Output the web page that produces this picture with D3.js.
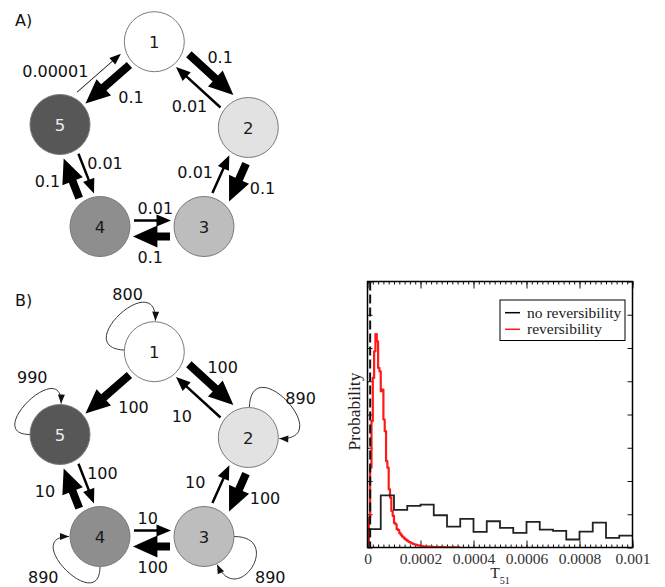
<!DOCTYPE html>
<html>
<head>
<meta charset="utf-8">
<script src="https://cdn.jsdelivr.net/npm/d3@7"></script>
<style>
  body { margin: 0; background: #fff; }
  svg { display: block; }
</style>
</head>
<body>
<svg id="fig" width="665" height="587"></svg>
<script>
// ---------------- data ----------------
// Five-state kinetic scheme: directed transitions and their rates
const states   = ["1", "2", "3", "4", "5"];
const edgeFrom = ["1", "2", "1", "5", "2", "3", "3", "4", "4", "5"];
const edgeTo   = ["2", "1", "5", "1", "3", "2", "4", "3", "5", "4"];
const ratesA   = [0.1, 0.01, 0.1, 0.00001, 0.1, 0.01, 0.1, 0.01, 0.1, 0.01];
const ratesB   = [100, 10, 100, 0, 100, 10, 100, 10, 100, 10];
// self-transition weights of scheme B (same order as states)
const selfRatesB = [800, 890, 890, 890, 990];

// Distribution of the first-passage time T51
const binNoRev  = 0.00005;
const probNoRev = [0.55, 1.57, 1.13, 1.25, 1.29, 0.97, 0.63, 0.86, 0.47, 0.79,
                   0.59, 0.44, 0.77, 0.54, 0.50, 0.24, 0.48, 0.75, 0.29, 0.36];
const binRev  = 0.000005;
const probRev = [0.1, 0.9, 2.4, 3.8, 5.1, 5.9, 6.42, 6.2, 5.4, 5.3,
                 4.7, 4.75, 3.85, 3.5, 2.6, 2.4, 1.75, 1.5, 1.1, 0.95,
                 0.74, 0.7, 0.55, 0.52, 0.43, 0.38, 0.33, 0.3, 0.25, 0.23,
                 0.19, 0.17, 0.15, 0.13, 0.11, 0.095, 0.085, 0.075, 0.065, 0.055,
                 0.045, 0.04, 0.035, 0.03, 0.03, 0.025, 0.025, 0.02, 0.02, 0.02,
                 0.015, 0.015, 0.015, 0.01, 0.01, 0.01, 0.01, 0.01, 0.008, 0.008,
                 0.006, 0.006, 0.005, 0.005, 0.004, 0.004, 0.003, 0.003, 0.002, 0.002];
const timeTicks = [0, 0.0002, 0.0004, 0.0006, 0.0008, 0.001];
const probTicks = [0, 1, 2, 3, 4, 5, 6, 7, 8];
const deterministicT51 = 0.00001;
const seriesNames = ["no reversibility", "reversibility"];

// ---------------- scheme layout ----------------
const nodeLayout = {
  "1": [154.3, 41.7], "2": [248.3, 127.5], "3": [204, 226.5],
  "4": [100, 226.5],  "5": [60, 124.5]
};
const nodeFill = { "1": "#ffffff", "2": "#e2e2e2", "3": "#bdbdbd", "4": "#8e8e8e", "5": "#575757" };
const nodeText = { "1": "#1a1a1a", "2": "#1a1a1a", "3": "#1a1a1a", "4": "#1a1a1a", "5": "#ececec" };
const R = 30;
// perpendicular lane of each arrow (positive = away from the ring centre)
const laneOffset = [14, -4, -1, 13, 12.7, -6, 10, -6, 9, -6.5];
// label placement relative to the arrow midpoint
const labelPos = [
  { dx: -3.7, dy: -11.3, anchor: "start" },
  { dx: -26.6, dy: 24.4, anchor: "start" },
  { dx: 10.8, dy: 19.1, anchor: "start" },
  { dx: -76.7, dy: 3.9, anchor: "start" },
  { dx: 12.2, dy: 11, anchor: "start" },
  { dx: -25.7, dy: 3.7, anchor: "middle" },
  { dx: -14, dy: 26, anchor: "start" },
  { dx: -15, dy: -7, anchor: "start" },
  { dx: -36.6, dy: 8.7, anchor: "start" },
  { dx: 0.9, dy: -4.6, anchor: "start" }
];
const labelSlotA = [0, 1, 2, 3, 4, 5, 6, 7, 8, 9];
const labelSlotB = [0, 1, 2, 3, 4, 5, 6, 7, 9, 8];
// self-loop geometry: start angle, end angle, reach; and label offsets
const loopGeom = {
  "1": { a: 183, b: -88, reach: 85, lx: -42, ly: -51.7 },
  "2": { a: -88, b: 2,  reach: 90, lx: 37,  ly: -33.8 },
  "3": { a: 0,   b: 65, reach: 80, lx: 51,  ly: 46 },
  "4": { a: 90,  b: 180, reach: 80, lx: -72, ly: 46 },
  "5": { a: 180, b: -88, reach: 78, lx: -43, ly: -51.5 }
};

const svg = d3.select("#fig");
const sans = "'DejaVu Sans', Verdana, sans-serif";
const serif = "'Liberation Serif', 'Times New Roman', serif";

const centroid = [d3.mean(states, s => nodeLayout[s][0]), d3.mean(states, s => nodeLayout[s][1])];

function arrowPath(t, p, w, hw, hl) {
  const dx = p[0] - t[0], dy = p[1] - t[1], L = Math.hypot(dx, dy);
  const ux = dx / L, uy = dy / L, nx = -uy, ny = ux;
  const bx = p[0] - ux * hl, by = p[1] - uy * hl;
  const path = d3.path();
  path.moveTo(t[0] + nx * w / 2, t[1] + ny * w / 2);
  path.lineTo(bx + nx * w / 2, by + ny * w / 2);
  path.lineTo(bx + nx * hw / 2, by + ny * hw / 2);
  path.lineTo(p[0], p[1]);
  path.lineTo(bx - nx * hw / 2, by - ny * hw / 2);
  path.lineTo(bx - nx * w / 2, by - ny * w / 2);
  path.lineTo(t[0] - nx * w / 2, t[1] - ny * w / 2);
  path.closePath();
  return path.toString();
}

function edgeGeometry(i) {
  const a = nodeLayout[edgeFrom[i]], b = nodeLayout[edgeTo[i]];
  const dx = b[0] - a[0], dy = b[1] - a[1], D = Math.hypot(dx, dy);
  const ux = dx / D, uy = dy / D;
  let nx = -uy, ny = ux;
  const mx = (a[0] + b[0]) / 2 - centroid[0], my = (a[1] + b[1]) / 2 - centroid[1];
  if (nx * mx + ny * my < 0) { nx = -nx; ny = -ny; }
  const o = laneOffset[i];
  const tail = [a[0] + ux * 34 + nx * o, a[1] + uy * 34 + ny * o];
  const tip = [a[0] + ux * (D - 33) + nx * o, a[1] + uy * (D - 33) + ny * o];
  return { tail, tip, mid: [(tail[0] + tip[0]) / 2, (tail[1] + tip[1]) / 2] };
}

function drawScheme(g, rates, fmt, slots, selfRates) {
  const m = d3.max(rates);
  const width = d3.scaleLog().domain([m / 1e4, m / 10, m]).range([0.8, 2.5, 8]).clamp(true);

  // self loops
  if (selfRates) {
    states.forEach((s, k) => {
      const c = nodeLayout[s], lg = loopGeom[s], rad = Math.PI / 180;
      const pt = (ang, d) => [c[0] + d * Math.cos(ang * rad), c[1] + d * Math.sin(ang * rad)];
      const p0 = pt(lg.a, R), p1 = pt(lg.a, lg.reach), p2 = pt(lg.b, lg.reach), p3 = pt(lg.b, R + 1);
      const path = d3.path();
      path.moveTo(p0[0], p0[1]);
      path.bezierCurveTo(p1[0], p1[1], p2[0], p2[1], p3[0], p3[1]);
      g.append("path").attr("d", path.toString())
        .attr("fill", "none").attr("stroke", "#3a3a3a").attr("stroke-width", 1);
      const dx = p3[0] - p2[0], dy = p3[1] - p2[1], L = Math.hypot(dx, dy);
      const base = [p3[0] - dx / L * 9, p3[1] - dy / L * 9];
      g.append("path").attr("d", arrowPath(base, p3, 0.01, 7, 9)).attr("fill", "#111");
      g.append("text").attr("x", c[0] + lg.lx).attr("y", c[1] + lg.ly)
        .attr("font-family", sans).attr("font-size", 16).attr("fill", "#111")
        .text(d3.format("d")(selfRates[k]));
    });
  }

  // transitions
  rates.forEach((r, i) => {
    if (!r) return;
    const geo = edgeGeometry(i);
    const w = width(r);
    g.append("path").attr("d", arrowPath(geo.tail, geo.tip, w, 7.5 + 1.8 * w, 10 + 1.8 * w))
      .attr("fill", "#000");
    const lp = labelPos[slots[i]];
    const ref = edgeGeometry(slots[i]).mid;
    g.append("text").attr("x", ref[0] + lp.dx).attr("y", ref[1] + lp.dy)
      .attr("text-anchor", lp.anchor)
      .attr("font-family", sans).attr("font-size", 16).attr("fill", "#111")
      .text(fmt(r));
  });

  // states
  const ng = g.selectAll("g.node").data(states).join("g").attr("class", "node")
    .attr("transform", s => `translate(${nodeLayout[s][0]},${nodeLayout[s][1]})`);
  ng.append("circle").attr("r", R).attr("fill", s => nodeFill[s])
    .attr("stroke", "#7a7a7a").attr("stroke-width", 1);
  ng.append("text").attr("y", 6).attr("text-anchor", "middle")
    .attr("font-family", sans).attr("font-size", 16.5).attr("fill", s => nodeText[s])
    .text(s => s);
}

const gA = svg.append("g");
drawScheme(gA, ratesA, d3.format(".5~f"), labelSlotA, null);
svg.append("text").attr("x", 15).attr("y", 25.5).attr("font-family", sans)
  .attr("font-size", 16).attr("fill", "#111").text("A)");

const gB = svg.append("g").attr("transform", "translate(0,310)");
drawScheme(gB, ratesB, d3.format("d"), labelSlotB, selfRatesB);
svg.append("text").attr("x", 15).attr("y", 305.5).attr("font-family", sans)
  .attr("font-size", 16).attr("fill", "#111").text("B)");

// ---------------- histogram panel ----------------
const x = d3.scaleLinear().domain([0, 0.001]).range([367.5, 632.5]);
const y = d3.scaleLinear().domain([0, 8]).range([547.5, 281.5]);

svg.append("defs").append("clipPath").attr("id", "plotClip")
  .append("rect").attr("x", x(0)).attr("y", y(8)).attr("width", x(0.001) - x(0)).attr("height", y(0) - y(8));

const styleAxis = (g) => {
  g.select(".domain").remove();
  g.selectAll("line").attr("stroke", "#111").attr("stroke-width", 1);
};

// minor and major ticks, bottom and top
svg.append("g").attr("transform", `translate(0,${y(0)})`)
  .call(d3.axisBottom(x).ticks(50).tickSize(-3).tickFormat(""))
  .call(styleAxis);
svg.append("g").attr("transform", `translate(0,${y(8)})`)
  .call(d3.axisTop(x).ticks(50).tickSize(-3).tickFormat(""))
  .call(styleAxis);
svg.append("g").attr("transform", `translate(0,${y(0)})`)
  .call(d3.axisBottom(x).tickValues(timeTicks).tickSize(-7).tickPadding(5)
    .tickFormat(d => d === 0 ? "0" : d3.format(".4~f")(d)))
  .call(styleAxis)
  .call(g => g.selectAll("text").attr("font-family", serif).attr("font-size", 15.5).attr("fill", "#333"));
svg.append("g").attr("transform", `translate(0,${y(8)})`)
  .call(d3.axisTop(x).tickValues(timeTicks).tickSize(-7).tickFormat(""))
  .call(styleAxis);
svg.append("g").attr("transform", `translate(${x(0)},0)`)
  .call(d3.axisLeft(y).tickValues(probTicks).tickSize(-5).tickFormat(""))
  .call(styleAxis);
svg.append("g").attr("transform", `translate(${x(0.001)},0)`)
  .call(d3.axisRight(y).tickValues(probTicks).tickSize(-5).tickFormat(""))
  .call(styleAxis);

const plot = svg.append("g").attr("clip-path", "url(#plotClip)");

// step outlines of both histograms
const stepPoints = (vals, bw) => [[0, 0]].concat(vals.map((v, i) => [i * bw, v]), [[vals.length * bw, vals[vals.length - 1]]]);
const stepLine = d3.line().x(d => x(d[0])).y(d => y(d[1])).curve(d3.curveStepAfter);

plot.append("path").attr("d", stepLine(stepPoints(probRev, binRev)))
  .attr("fill", "none").attr("stroke", "#ff1a1a").attr("stroke-width", 2.2).attr("stroke-linejoin", "round");
plot.append("path").attr("d", stepLine(stepPoints(probNoRev, binNoRev)))
  .attr("fill", "none").attr("stroke", "#222").attr("stroke-width", 1.8);

// deterministic passage time
plot.append("line").attr("x1", x(deterministicT51)).attr("x2", x(deterministicT51))
  .attr("y1", y(8)).attr("y2", y(0))
  .attr("stroke", "#111").attr("stroke-width", 2).attr("stroke-dasharray", "9,4");

// frame
svg.append("rect").attr("x", x(0)).attr("y", y(8))
  .attr("width", x(0.001) - x(0)).attr("height", y(0) - y(8))
  .attr("fill", "none").attr("stroke", "#000").attr("stroke-width", 1.5);

// axis titles
const xt = svg.append("text").attr("x", (x(0) + x(0.001)) / 2).attr("y", 578)
  .attr("text-anchor", "middle").attr("font-family", serif).attr("font-size", 15.5).attr("fill", "#222");
xt.append("tspan").text("T");
xt.append("tspan").attr("font-size", 10).attr("dy", 6).text("51");

svg.append("text").attr("transform", `translate(360,${(y(0) + y(8)) / 2 - 3}) rotate(-90)`)
  .attr("text-anchor", "middle").attr("font-family", serif).attr("font-size", 17.5).attr("fill", "#222")
  .text("Probability");

// legend
const lg = svg.append("g");
lg.append("rect").attr("x", 500).attr("y", 300).attr("width", 125).attr("height", 40.5)
  .attr("fill", "#fff").attr("stroke", "#000").attr("stroke-width", 1);
const legendColors = ["#000", "#ff1a1a"];
seriesNames.forEach((name, i) => {
  const yy = 312.7 + i * 16.6;
  lg.append("line").attr("x1", 505).attr("x2", 520).attr("y1", yy).attr("y2", yy)
    .attr("stroke", legendColors[i]).attr("stroke-width", 1.5);
  lg.append("text").attr("x", 527).attr("y", yy + 4.8)
    .attr("font-family", serif).attr("font-size", 15.5).attr("fill", "#222").text(name);
});
</script>
</body>
</html>
